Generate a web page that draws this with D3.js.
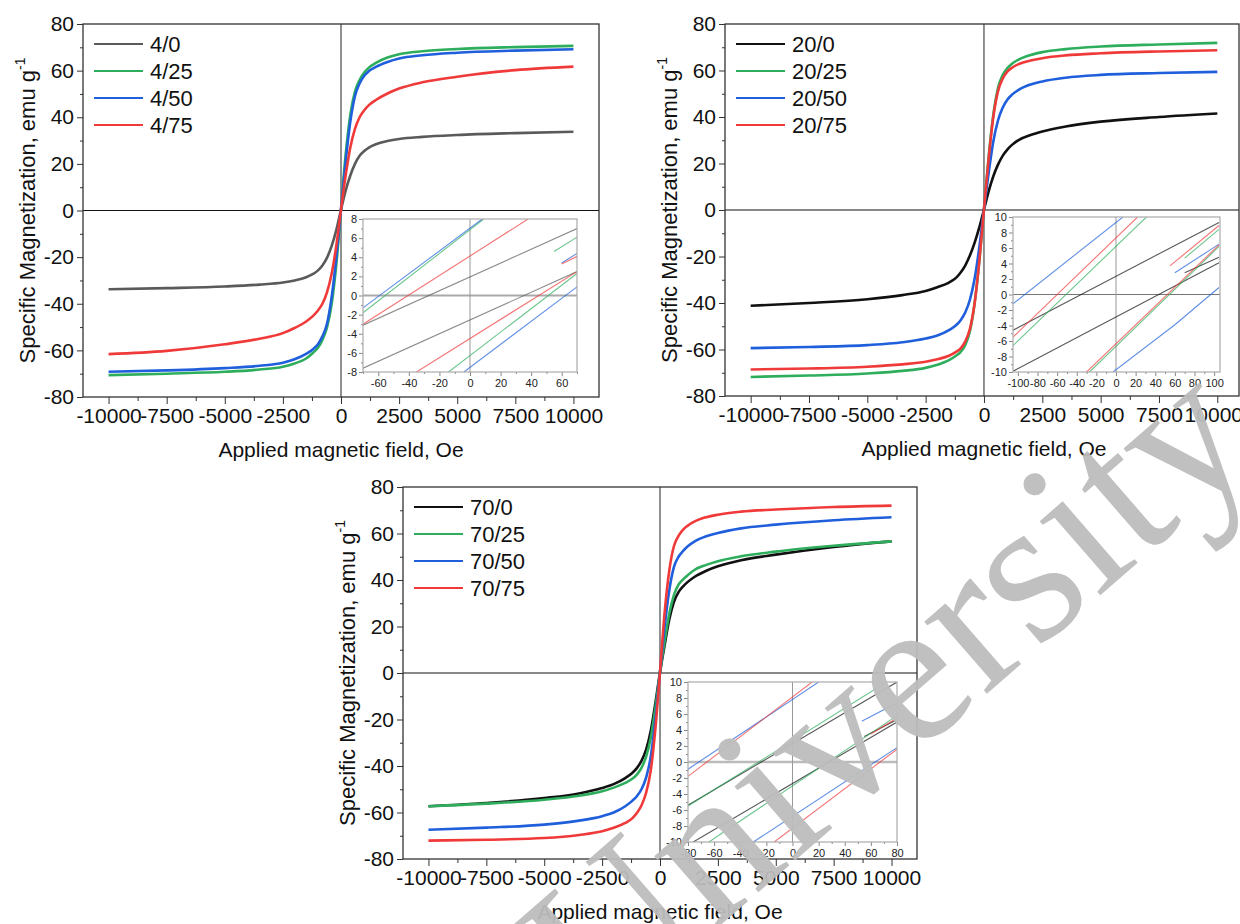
<!DOCTYPE html>
<html>
<head>
<meta charset="utf-8">
<script src="https://cdn.jsdelivr.net/npm/d3@7"></script>
<style>
  html, body { margin: 0; padding: 0; background: #fff; }
  svg { display: block; font-family: "Liberation Sans", Arial, sans-serif; }
</style>
</head>
<body>
<svg id="chart" width="1240" height="924"></svg>
<script>
// ---------------- DATA ----------------
const fieldOe = [-10000,-7500,-5000,-3500,-2500,-2000,-1500,-1200,-1000,-800,-600,-400,-200,
                 0,200,400,600,800,1000,1200,1500,2000,2500,3500,5000,7500,10000];

const seriesA = ["4/0","4/25","4/50","4/75"];
const m4_0  = [-33.8,-33.3,-32.6,-31.8,-30.9,-30.0,-28.6,-27.2,-25.8,-23.6,-20.2,-15.2,-8.3,
               0.3,8.5,15,20,23.5,25.5,27,28.4,29.8,30.7,31.6,32.4,33.2,33.8];
const m4_25 = [-70.6,-70.0,-69.2,-68.2,-67.0,-65.6,-63.5,-61,-59,-55.5,-50,-40,-23,
               0.5,24,41,51,56,59.2,61.3,63.3,65.6,67,68.3,69.3,70.1,70.6];
const m4_50 = [-69.2,-68.6,-67.6,-66.6,-65.3,-63.8,-61.5,-59.5,-57.5,-54,-48.5,-37,-20,
               0.5,21,38,49,54.5,57.8,59.8,61.6,63.7,65.2,66.6,67.7,68.6,69.2];
const m4_75 = [-61.6,-60.2,-57.4,-55,-52.6,-50.4,-47.6,-45.2,-43,-40,-35,-27,-15,
               0.4,15,27,35,40,43,45.2,47.4,50.2,52.3,55,57.4,60.2,61.7];

const seriesB = ["20/0","20/25","20/50","20/75"];
const m20_0  = [-41.2,-40.0,-38.4,-36.6,-34.8,-33.2,-31.2,-29.2,-26.9,-23.8,-19.5,-14,-7.5,
                0.2,8,14.5,19.5,23.3,26,28,30.2,32.3,33.8,35.9,38,40,41.5];
const m20_25 = [-71.8,-71.2,-70.3,-69.2,-67.9,-66.6,-64.6,-62.7,-61,-58,-52,-40,-22,
                0.4,23,41,52.5,58,61,62.9,64.8,66.7,67.9,69.2,70.3,71.2,71.9];
const m20_50 = [-59.4,-58.9,-58.1,-56.9,-55.3,-54,-51.7,-49.6,-47.4,-44,-38.5,-29.5,-16,
                0.4,16,29.5,38.5,44,47.4,49.6,51.8,54,55.3,56.9,58.1,58.9,59.4];
const m20_75 = [-68.6,-68.2,-67.4,-66.4,-65.3,-64.2,-62.7,-61,-59.5,-56.5,-51,-40,-22,
                0.4,22,40,51,56.5,59.5,61.2,62.8,64.3,65.3,66.5,67.4,68.2,68.7];

const seriesC = ["70/0","70/25","70/50","70/75"];
const m70_0  = [-57.3,-55.9,-53.8,-51.8,-49.5,-47.8,-45.2,-43,-40.9,-37.8,-33,-25,-13,
                0.3,12,23,30.5,34.8,37.3,39.2,41.4,44,45.9,48.5,50.9,54.2,56.6];
const m70_25 = [-57.3,-56.2,-54.5,-52.8,-50.9,-49.3,-47.3,-45.5,-43.7,-40.8,-36,-28,-15,
                0.3,13.5,25.5,33.5,38,40.3,42.1,44.4,46.5,48.1,50.2,52.2,54.7,56.6];
const m70_50 = [-67.4,-66.5,-65.2,-63.5,-61.6,-60,-57.3,-55,-53,-50,-45,-36,-20,
                0.4,20,35.5,45.5,50,52.5,54.5,56.6,58.8,60.2,62.2,63.8,65.7,67];
const m70_75 = [-72.1,-71.7,-71,-69.7,-68.1,-66.6,-64.5,-62.5,-60.2,-57,-51.5,-42,-24,
                0.4,26,44,54.5,59,61.7,63.4,65.2,67,68.1,69.4,70.3,71.4,72];

// inset branches: [series, H1, M1, H2, M2, ...]
const insetA = [
  ["4/0", -70,-3.1, 70,7.0],
  ["4/0", -70,-7.6, 70,2.5],
  ["4/25", -70,-1.8, 9,8],
  ["4/25", -14,-8, 70,2.3],
  ["4/25", 55,4.6, 70,6.1],
  ["4/50", -70,-1.3, 8,8],
  ["4/50", -4,-8, 70,0.9],
  ["4/50", 60,3.4, 70,4.4],
  ["4/75", -70,-3.0, 38,8],
  ["4/75", -35,-8, 70,2.5],
  ["4/75", 60,3.3, 70,4.1]
];
const insetB = [
  ["20/0", -105,-4.6, 105,9.3],
  ["20/0", -105,-9.9, 105,4.1],
  ["20/0", 70,2.8, 105,4.8],
  ["20/25", -105,-6.6, 31,10],
  ["20/25", -27,-10, 105,6.2],
  ["20/25", 70,4.7, 105,8.4],
  ["20/50", -105,-1.2, 7,10],
  ["20/50", -3,-10, 60,-3.9, 105,0.9],
  ["20/50", 60,2.8, 105,6.5],
  ["20/75", -105,-5.5, 22,10],
  ["20/75", -30,-10, 105,6.4],
  ["20/75", 55,3.7, 105,8.9]
];
const insetC = [
  ["70/0", -80,-5.4, 80,10],
  ["70/0", -76,-10, 80,5.0],
  ["70/0", 55,3.2, 80,5.3],
  ["70/25", -80,-5.5, 72,10],
  ["70/25", -64,-10, 80,5.8],
  ["70/50", -80,-0.9, 20,10],
  ["70/50", -30,-10, 80,1.8],
  ["70/50", 53,5.1, 80,7.4],
  ["70/75", -80,-1.8, 15,10],
  ["70/75", -14,-10, 80,1.6],
  ["70/75", 60,3.5, 80,5.5]
];

const mainXTicks = [-10000,-7500,-5000,-2500,0,2500,5000,7500,10000];
const mainXMinor = [-8750,-6250,-3750,-1250,1250,3750,6250,8750];
const mainYTicks = [-80,-60,-40,-20,0,20,40,60,80];
const mainYMinor = [-70,-50,-30,-10,10,30,50,70];
const insetAXTicks = [-60,-40,-20,0,20,40,60];
const insetBXTicks = [-100,-80,-60,-40,-20,0,20,40,60,80,100];
const insetCXTicks = [-80,-60,-40,-20,0,20,40,60,80];
const insetAYTicks = [-8,-6,-4,-2,0,2,4,6,8];
const insetBYTicks = [-10,-8,-6,-4,-2,0,2,4,6,8,10];

const xTitle = "Applied magnetic field, Oe";
const yTitle = "Specific Magnetization, emu g";
const watermark = "University";

// ---------------- STYLE / LAYOUT ----------------
const colorA = {"4/0":"#5a5a5a","4/25":"#2eae5c","4/50":"#1f5fdc","4/75":"#f03a3a"};
const colorB = {"20/0":"#111111","20/25":"#2eae5c","20/50":"#1f5fdc","20/75":"#f03a3a"};
const colorC = {"70/0":"#111111","70/25":"#2eae5c","70/50":"#1f5fdc","70/75":"#f03a3a"};

const panels = [
  { left:83, right:599, top:24, bottom:397, xDomain:[-11100,11100], lastShift:0,
    names:seriesA, values:[m4_0,m4_25,m4_50,m4_75], colors:colorA,
    inset:{ left:363, right:577, top:219, bottom:372, xDomain:[-70,70], yDomain:[-8,8],
            xTicks:insetAXTicks, yTicks:insetAYTicks, data:insetA, zeroW:2, zeroC:"#aaa" } },
  { left:725, right:1239, top:24, bottom:396, xDomain:[-11100,10930], lastShift:-4,
    names:seriesB, values:[m20_0,m20_25,m20_50,m20_75], colors:colorB,
    inset:{ left:1013, right:1220, top:217, bottom:372, xDomain:[-105,106], yDomain:[-10,10],
            xTicks:insetBXTicks, yTicks:insetBYTicks, data:insetB, zeroW:1, zeroC:"#777" } },
  { left:403, right:917, top:487, bottom:859, xDomain:[-11100,11100], lastShift:0,
    names:seriesC, values:[m70_0,m70_25,m70_50,m70_75], colors:colorC,
    inset:{ left:688, right:897, top:682, bottom:842, xDomain:[-80,80], yDomain:[-10,10],
            xTicks:insetCXTicks, yTicks:insetBYTicks, data:insetC, zeroW:2.5, zeroC:"#bbb" } }
];

const svg = d3.select("#chart");
let clipId = 0;
const FONT = "Liberation Sans, Arial, sans-serif";

function drawPanel(p) {
  const g = svg.append("g");
  const x = d3.scaleLinear().domain(p.xDomain).range([p.left, p.right]);
  const y = d3.scaleLinear().domain([-80, 80]).range([p.bottom, p.top]);

  // axes (outward ticks)
  const ax = g.append("g").attr("transform", `translate(0,${p.bottom})`)
    .call(d3.axisBottom(x).tickValues(mainXTicks).tickSize(7).tickPadding(4).tickFormat(d => String(d)));
  ax.select(".domain").remove();
  ax.selectAll("text").attr("font-size", 21).attr("fill", "#111").attr("font-family", FONT);
  ax.selectAll("text").filter(d => d === 10000).attr("dx", p.lastShift);
  ax.selectAll("line").attr("stroke", "#333");
  const axm = g.append("g").attr("transform", `translate(0,${p.bottom})`)
    .call(d3.axisBottom(x).tickValues(mainXMinor).tickSize(4).tickFormat(""));
  axm.select(".domain").remove();
  axm.selectAll("line").attr("stroke", "#333");

  const ay = g.append("g").attr("transform", `translate(${p.left},0)`)
    .call(d3.axisLeft(y).tickValues(mainYTicks).tickSize(6).tickPadding(3).tickFormat(d => String(d)));
  ay.select(".domain").remove();
  ay.selectAll("text").attr("font-size", 21).attr("fill", "#111").attr("font-family", FONT);
  ay.selectAll("line").attr("stroke", "#333");
  const aym = g.append("g").attr("transform", `translate(${p.left},0)`)
    .call(d3.axisLeft(y).tickValues(mainYMinor).tickSize(3).tickFormat(""));
  aym.select(".domain").remove();
  aym.selectAll("line").attr("stroke", "#333");

  // zero lines
  g.append("line").attr("x1", p.left).attr("x2", p.right).attr("y1", y(0)).attr("y2", y(0))
    .attr("stroke", "#111").attr("stroke-width", 1);
  g.append("line").attr("x1", x(0)).attr("x2", x(0)).attr("y1", p.top).attr("y2", p.bottom)
    .attr("stroke", "#222").attr("stroke-width", 1);

  // curves
  const line = d3.line().x(d => x(d[0])).y(d => y(d[1])).curve(d3.curveMonotoneX);
  p.names.forEach((name, i) => {
    const pts = fieldOe.map((h, k) => [h, p.values[i][k]]);
    g.append("path").attr("d", line(pts)).attr("fill", "none")
      .attr("stroke", p.colors[name]).attr("stroke-width", 2.6).attr("stroke-linejoin", "round");
  });

  // frame
  g.append("rect").attr("x", p.left).attr("y", p.top)
    .attr("width", p.right - p.left).attr("height", p.bottom - p.top)
    .attr("fill", "none").attr("stroke", "#333").attr("stroke-width", 1.3);

  // legend
  p.names.forEach((name, i) => {
    const cy = p.top + 20 + i * 27;
    g.append("line").attr("x1", p.left + 11).attr("x2", p.left + 60).attr("y1", cy).attr("y2", cy)
      .attr("stroke", p.colors[name]).attr("stroke-width", 2);
    g.append("text").attr("x", p.left + 67).attr("y", cy).attr("dy", "0.36em")
      .attr("font-size", 22).attr("fill", "#111").text(name);
  });

  // titles
  g.append("text").attr("x", x(0)).attr("y", p.bottom + 60).attr("text-anchor", "middle")
    .attr("font-size", 21).attr("fill", "#111").text(xTitle);
  const cyT = (p.top + p.bottom) / 2;
  const yt = g.append("text").attr("transform", `translate(${p.left - 48},${cyT}) rotate(-90)`)
    .attr("text-anchor", "middle").attr("font-size", 22).attr("fill", "#111");
  yt.append("tspan").text(yTitle);
  yt.append("tspan").attr("font-size", 14).attr("dy", -10).text("-1");

  // inset
  const s = p.inset;
  const ix = d3.scaleLinear().domain(s.xDomain).range([s.left, s.right]);
  const iy = d3.scaleLinear().domain(s.yDomain).range([s.bottom, s.top]);
  const ig = svg.append("g");
  ig.append("rect").attr("x", s.left).attr("y", s.top).attr("width", s.right - s.left)
    .attr("height", s.bottom - s.top).attr("fill", "#fff");
  const id = "clip" + (clipId++);
  ig.append("clipPath").attr("id", id).append("rect").attr("x", s.left).attr("y", s.top)
    .attr("width", s.right - s.left).attr("height", s.bottom - s.top);

  const minorX = [];
  for (let v = Math.ceil(s.xDomain[0] / 10) * 10; v <= s.xDomain[1]; v += 10) if (!s.xTicks.includes(v)) minorX.push(v);
  const minorY = [];
  for (let v = s.yDomain[0] + 1; v < s.yDomain[1]; v += 2) minorY.push(v);

  const iax = ig.append("g").attr("transform", `translate(0,${s.bottom})`)
    .call(d3.axisBottom(ix).tickValues(s.xTicks).tickSize(4).tickPadding(3).tickFormat(d => String(d)));
  iax.select(".domain").remove();
  iax.selectAll("text").attr("font-size", 11).attr("fill", "#222").attr("font-family", FONT);
  iax.selectAll("line").attr("stroke", "#888");
  const iaxm = ig.append("g").attr("transform", `translate(0,${s.bottom})`)
    .call(d3.axisBottom(ix).tickValues(minorX).tickSize(2).tickFormat(""));
  iaxm.select(".domain").remove(); iaxm.selectAll("line").attr("stroke", "#888");

  const iay = ig.append("g").attr("transform", `translate(${s.left},0)`)
    .call(d3.axisLeft(iy).tickValues(s.yTicks).tickSize(4).tickPadding(2).tickFormat(d => String(d)));
  iay.select(".domain").remove();
  iay.selectAll("text").attr("font-size", 11).attr("fill", "#222").attr("font-family", FONT);
  iay.selectAll("line").attr("stroke", "#888");
  const iaym = ig.append("g").attr("transform", `translate(${s.left},0)`)
    .call(d3.axisLeft(iy).tickValues(minorY).tickSize(2).tickFormat(""));
  iaym.select(".domain").remove(); iaym.selectAll("line").attr("stroke", "#888");

  // inset zero lines
  ig.append("line").attr("x1", s.left).attr("x2", s.right).attr("y1", iy(0)).attr("y2", iy(0))
    .attr("stroke", s.zeroC).attr("stroke-width", s.zeroW);
  ig.append("line").attr("x1", ix(0)).attr("x2", ix(0)).attr("y1", s.top).attr("y2", s.bottom)
    .attr("stroke", "#999").attr("stroke-width", 1);

  const il = d3.line().x(d => ix(d[0])).y(d => iy(d[1]));
  const lg = ig.append("g").attr("clip-path", `url(#${id})`);
  s.data.forEach(row => {
    const name = row[0];
    const pts = [];
    for (let k = 1; k < row.length; k += 2) pts.push([row[k], row[k + 1]]);
    lg.append("path").attr("d", il(pts)).attr("fill", "none")
      .attr("stroke", p.colors[name]).attr("stroke-opacity", 0.7).attr("stroke-width", 1.1);
  });

  ig.append("rect").attr("x", s.left).attr("y", s.top).attr("width", s.right - s.left)
    .attr("height", s.bottom - s.top).attr("fill", "none").attr("stroke", "#aaa").attr("stroke-width", 1.2);
}

panels.forEach(drawPanel);

// watermark
svg.append("text")
  .attr("transform", "translate(600,1030) rotate(-41)")
  .attr("font-family", "Liberation Serif, Times New Roman, serif")
  .attr("font-size", 208)
  .attr("fill", "#bdbdbd")
  .attr("fill-opacity", 0.95)
  .text(watermark);
</script>
</body>
</html>
